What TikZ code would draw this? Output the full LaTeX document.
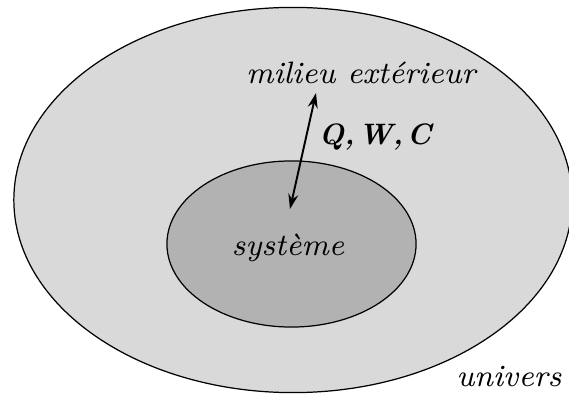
\documentclass[tikz,border=0pt]{standalone}
\usepackage{amsmath}
\usetikzlibrary{arrows.meta,shapes.geometric}

\begin{document}
\begin{tikzpicture}[x=0.01cm, y=-0.01cm,
    zone/.style={ellipse, draw=black, line width=0.35pt, inner sep=0pt},
    label/.style={font=\fontsize{8}{9}\selectfont\itshape, scale=1.1,
        transform shape, inner sep=0pt},
    arrow/.style={{Stealth[length=1.5mm, width=1mm, inset=0.5mm]}-{Stealth[length=1.5mm, width=1mm, inset=0.5mm]},
        line width=0.55pt}]
\useasboundingbox (0,0) rectangle (569,394);
\node[zone, fill=black!15, minimum width=5.58cm, minimum height=3.85cm] (univ) at (293,200) {};
\node[zone, fill=black!30, minimum width=2.49cm, minimum height=1.66cm] (sys) at (291.5,244) {};

\node[label] (milieu) at (361,73)  {milieu extérieur};
\node[label] (systeme) at (288,248) {système};
\node[label] (univers) at (509,377) {univers};
\node[label, scale=1.05/1.1, font=\fontsize{8}{9}\selectfont\bfseries\itshape] (qwc) at (375,137) {Q,\kern1pt W,\kern1pt C};

\coordinate (haut) at (316,93);
\coordinate (bas)  at (290,209);
\draw[arrow] (haut) -- (bas);
\end{tikzpicture}
\end{document}
